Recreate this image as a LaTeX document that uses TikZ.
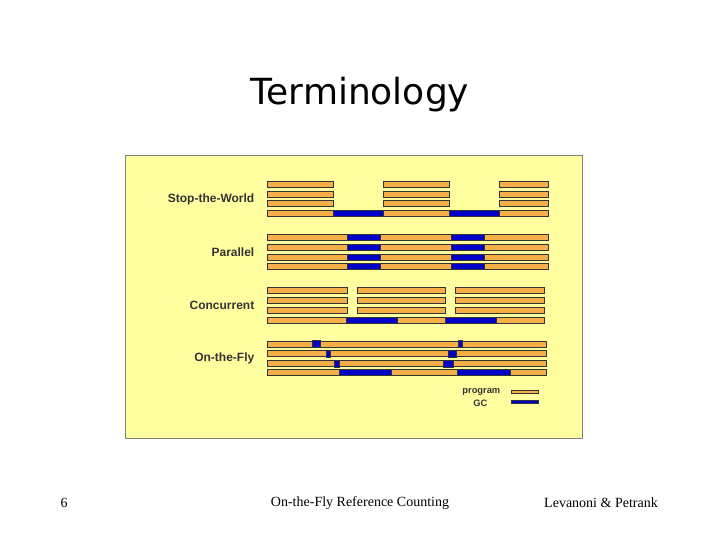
\documentclass[tikz,border=0pt]{standalone}
\usepackage{fontspec}
\setmainfont{Liberation Serif}
\newfontfamily\lab{Liberation Sans}
\newfontfamily\ttl{DejaVu Sans}
\definecolor{panel}{RGB}{255,255,160}
\definecolor{prog}{RGB}{245,175,70}
\definecolor{gc}{RGB}{0,0,200}
\tikzset{pb/.style={fill=prog,draw=black!80,line width=0.6pt},
 gb/.style={fill=gc,draw=black!80,line width=0.6pt},
 lbl/.style={anchor=east,font=\lab\bfseries\fontsize{9}{10}\selectfont,text=black!80},
 foot/.style={font=\fontsize{10.5}{12}\selectfont}}
\newcommand{\PBar}[3]{\draw[pb] (#1,#3-3) rectangle (#2,#3+3);}
\newcommand{\GBar}[3]{\draw[gb] (#1,#3-3) rectangle (#2,#3+3);}
\newcommand{\GSm}[3]{\draw[gb] (#1,#3-3.5) rectangle (#2,#3+3.5);}
\begin{document}
\begin{tikzpicture}[x=0.75pt,y=-0.75pt]
\useasboundingbox (0,0) rectangle (720,540);
\fill[white] (0,0) rectangle (720,540);
\node[font=\ttl\fontsize{27}{30}\selectfont] (title) at (360,95) {Terminology};
\draw[fill=panel,draw=black!50] (125,155) rectangle (582,438);
% Stop-the-World
\foreach \y in {184,194,203.5}{\PBar{267}{333}{\y}\PBar{383}{449}{\y}\PBar{499}{548}{\y}}
\PBar{267}{333}{213}\GBar{333}{383}{213}\PBar{383}{449}{213}\GBar{449}{499}{213}\PBar{499}{548}{213}
\node[lbl] (stw) at (259,199) {Stop-the-World};
% Parallel
\foreach \y in {237,247,257,266.5}{\PBar{267}{347}{\y}\GBar{347}{380}{\y}\PBar{380}{451}{\y}\GBar{451}{484}{\y}\PBar{484}{548}{\y}}
\node[lbl] (par) at (259,252) {Parallel};
% Concurrent
\foreach \y in {290,300,310}{\PBar{267}{347}{\y}\PBar{357}{445}{\y}\PBar{455}{544}{\y}}
\PBar{267}{346}{320}\GBar{346}{397}{320}\PBar{397}{445}{320}\GBar{445}{496}{320}\PBar{496}{544}{320}
\node[lbl] (con) at (259,305) {Concurrent};
% On-the-Fly
\foreach \y in {344,353.5,363.5}{\PBar{267}{546}{\y}}
\GSm{312}{320}{344}\GSm{458}{462}{344}
\GSm{326}{330}{353.5}\GSm{448}{456}{353.5}
\GSm{334}{339}{363.5}\GSm{443}{453}{363.5}
\PBar{267}{339}{372.5}\GBar{339}{391}{372.5}\PBar{391}{457}{372.5}\GBar{457}{510}{372.5}\PBar{510}{546}{372.5}
\node[lbl] (otf) at (259,358) {On-the-Fly};
% legend
\node[lbl,font=\lab\bfseries\fontsize{7}{8}\selectfont] (lp) at (505,392) {program};
\node[lbl,font=\lab\bfseries\fontsize{7}{8}\selectfont] (lg) at (492,403) {GC};
\draw[pb,line width=0.5pt] (511,390.5) rectangle (538,393.5);
\draw[gb,line width=0.5pt] (511,400) rectangle (538,403);
% footer
\node[foot] (num) at (64,503) {6};
\node[foot] (ft) at (360,503) {On-the-Fly Reference Counting};
\node[foot] (au) at (601,503) {Levanoni \& Petrank};
\end{tikzpicture}
\end{document}
